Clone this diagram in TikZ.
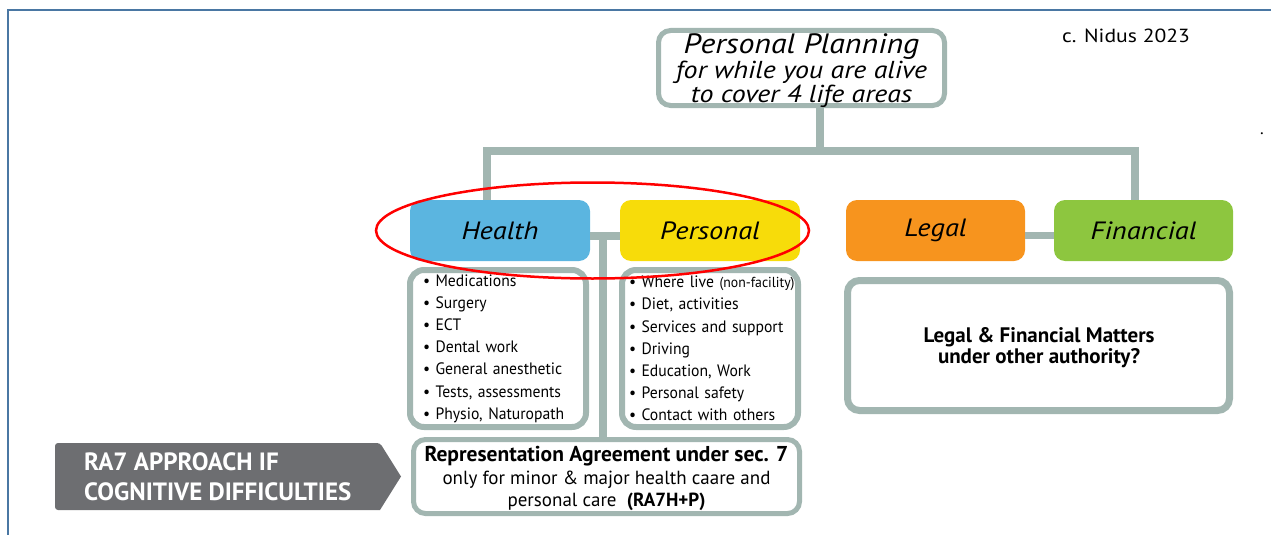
\documentclass[tikz,border=0pt]{standalone}
\usepackage{fontspec}
\setmainfont{PT Sans}
\newfontfamily\widefont{PT Sans}[FakeStretch=1.14]
\newfontfamily\listfont{PT Sans}[FakeStretch=0.95]
\definecolor{framecol}{RGB}{74,119,163}
\definecolor{linkgray}{RGB}{162,182,177}
\definecolor{healthblue}{RGB}{91,181,224}
\definecolor{personalyellow}{RGB}{247,220,10}
\definecolor{legalorange}{RGB}{247,148,30}
\definecolor{financialgreen}{RGB}{141,198,63}
\definecolor{ragray}{RGB}{109,110,113}
\hyphenpenalty=10000
\exhyphenpenalty=10000
\newcommand\bul{\textbullet~}
\tikzset{
  link/.style={draw=linkgray, line width=7.5pt},
  area/.style={rounded corners=11pt, minimum width=180pt, minimum height=61pt, inner sep=0pt, font=\widefont\itshape\fontsize{25}{25}\selectfont},
  listbox/.style={draw=linkgray, fill=white, line width=6pt, rounded corners=14pt, minimum width=176pt, minimum height=157pt, inner sep=0pt, align=left, font=\listfont\fontsize{16.5}{22.2}\selectfont},
  framebox/.style={draw=linkgray, fill=white, rounded corners=12pt, inner sep=0pt, align=center},
}

\begin{document}
\begin{tikzpicture}[x=1pt, y=-1pt]
\useasboundingbox (0,0) rectangle (1271,535);
\draw[framecol, line width=2.5pt] (1271,10) -- (8,10) -- (8,535);

\node[framebox, line width=5pt, minimum width=286pt, minimum height=75pt] (plan) at (801.5,68) {};
\node[align=center, inner sep=0pt, font=\widefont\itshape\fontsize{24.5}{24.5}\selectfont] (plantext) at (801.5,70.5)
  {\fontsize{28}{25}\selectfont Personal Planning\\[0.5pt]
   \fontsize{24.5}{24.5}\selectfont for while you are alive\\to cover 4 life areas};
\node[font=\widefont\fontsize{19}{19}\selectfont] (nidus) at (1126,36) {c. Nidus 2023};
\node[font=\fontsize{17}{17}\selectfont] (dot) at (1262,134) {.};

\node[area, fill=healthblue] (health) at (500,230.5) {Health};
\node[area, fill=personalyellow] (personal) at (710,230.5) {Personal};
\node[area, fill=legalorange, minimum width=179pt] (legal) at (935.5,230.5) {Legal};
\node[area, fill=financialgreen, minimum width=179pt] (financial) at (1143.5,230.5) {Financial};

\coordinate (J) at (820,151);
\draw[link] (plan.south -| J) -- (J);
\draw[link] ([xshift=-13pt]health.north) |- (J) -| ([xshift=-8.5pt]financial.north);
\draw[link] ([yshift=-5.5pt]health.east) -- ([yshift=-5.5pt]personal.west);
\draw[link] ([yshift=-5pt]legal.east) -- ([yshift=-5pt]financial.west);

\node[listbox, text width=150pt] (healthlist) at (498,348.5)
  {\bul Medications\\\bul Surgery\\\bul ECT\\\bul Dental work\\\bul General anesthetic\\\bul Tests, assessments\\\bul Physio, Naturopath};
\node[listbox, text width=162pt] (personallist) at (710,348.5)
  {\bul Where~live~\fontsize{14.5}{22.2}\selectfont(non-facility)\fontsize{16.5}{22.2}\selectfont\\\bul Diet, activities\\\bul Services~and~support\\\bul Driving\\\bul Education, Work\\\bul Personal safety\\\bul Contact with others};

\node[framebox, line width=5pt, minimum width=386pt, minimum height=74pt] (rep) at (606.5,476.5) {};
\node[align=center, inner sep=0pt, font=\fontsize{19}{22.5}\selectfont] (reptext) at (606.5,478.5)
  {\fontsize{21.5}{22.5}\selectfont\textbf{Representation Agreement under sec. 7}\\\fontsize{19}{22.5}\selectfont only for minor \& major health caare and\\personal care~~\textbf{(RA7H+P)}};
\draw[link] ([yshift=-5.5pt]health.east -| 603,0) -- (rep.north -| 603,0);

\node[framebox, line width=7pt, minimum width=382pt, minimum height=130pt] (legalfin) at (1038.5,345.5) {};
\node[align=center, inner sep=0pt, font=\bfseries\fontsize{21}{21.5}\selectfont] (legalfintext) at (1039,347.5)
  {Legal \& Financial Matters\\under other authority?};

\fill[ragray, rounded corners=3pt] (55,443) -- (380,443) [sharp corners] -- (401,476.5) -- (380,510) [rounded corners=3pt] -- (55,510) -- cycle;
\node[anchor=west, text=white, align=left, inner sep=0pt, font=\bfseries\fontsize{25}{30}\selectfont] (ra7) at (84,477)
  {RA7 APPROACH IF\\COGNITIVE DIFFICULTIES};

\draw[red, line width=2.5pt] (592.5,230.5) ellipse [x radius=216.5, y radius=48];
\end{tikzpicture}
\end{document}
